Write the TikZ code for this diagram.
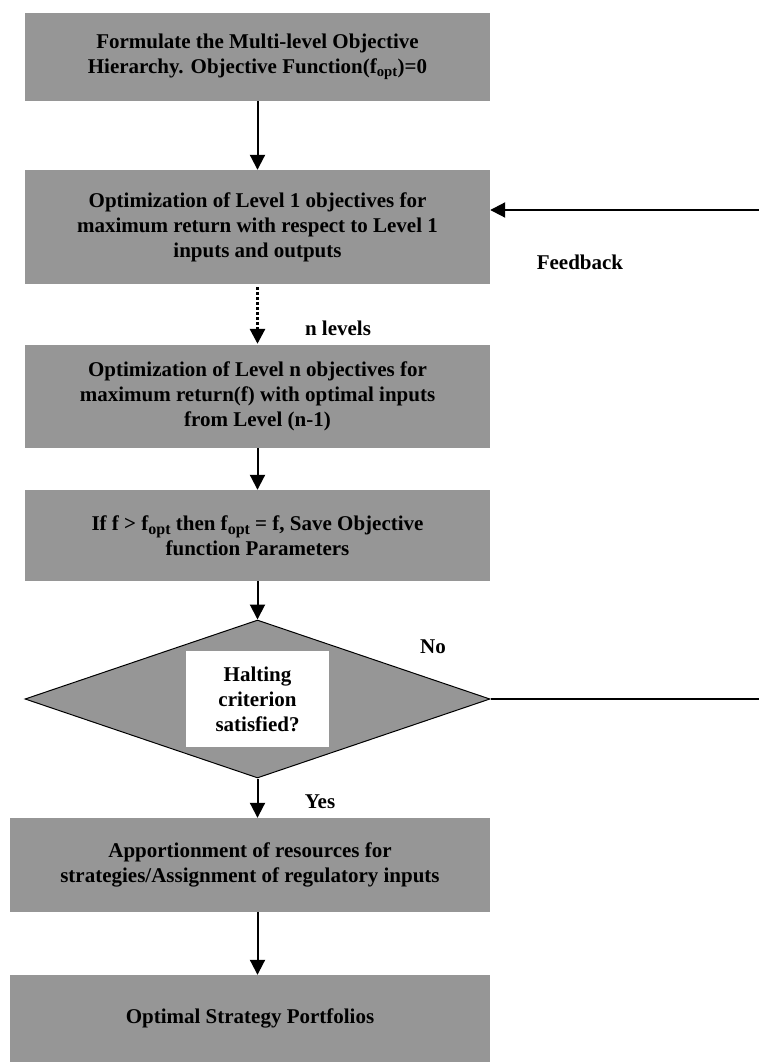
\documentclass[tikz,border=0pt]{standalone}
\usepackage{fontspec}
\setmainfont{Liberation Serif}
\usetikzlibrary{%
  arrows.meta,%
  shapes.geometric%
}
\definecolor{boxgray}{RGB}{150,150,150}
\newcommand{\subopt}{\raisebox{-0.45ex}{\fontsize{16}{16}\selectfont opt}}
\tikzset{
  box/.style={fill=boxgray,minimum width=465pt,inner sep=0pt,align=center},
  arr/.style={line width=2pt,-{Triangle[width=15pt,length=15pt]}}
}

\begin{document}
\begin{tikzpicture}[x=1pt,y=-1pt,font=\fontsize{21}{25}\selectfont\bfseries]
  \useasboundingbox (0,0) rectangle (759,1062);
  % boxes
  \node[box,minimum height=88pt] (form) at (257.5,57)
    {Formulate the Multi-level Objective\\
     Hierarchy. Objective Function(f\textsubscript{opt})=0};
  \node[box,minimum height=114pt] (opt1) at (257.5,227)
    {Optimization of Level 1 objectives for\\
     maximum return with respect to Level 1\\
     inputs and outputs};
  \node[box,minimum height=103pt] (optn) at (257.5,396.5)
    {Optimization of Level n objectives for\\
     maximum return(f) with optimal inputs\\
     from Level (n-1)};
  \node[box,minimum height=91pt] (save) at (257.5,535.5)
    {If f > f\subopt{} then f\subopt{} = f, Save Objective\\
     function Parameters};
  \node[diamond,draw,line width=1pt,fill=boxgray,minimum width=465pt,
    minimum height=158pt,inner sep=0pt] (dec) at (257.5,699) {};
  \node[fill=white,minimum width=143pt,minimum height=96pt,inner sep=0pt,
    align=center] (halt) at (257.5,699) {Halting\\criterion\\satisfied?};
  \node[box,minimum width=480pt,minimum height=94pt] (apport) at (250,865)
    {Apportionment of resources for\\
     strategies/Assignment of regulatory inputs};
  \node[box,minimum width=480pt,minimum height=87pt] (final) at (250,1018.5)
    {Optimal Strategy Portfolios};
  % labels
  \node (nlev) at (338,328) {n levels};
  \node (fb) at (580,262) {Feedback};
  \node (no) at (433,647) {No};
  \node (yes) at (320,802) {Yes};
  % arrows
  \draw[arr] (form) -- (opt1);
  \draw[arr,line width=3pt,shorten <=3pt,shorten >=1pt,dash pattern=on 3pt off 2pt] (opt1) -- (optn);
  \draw[arr] (optn) -- (save);
  \draw[arr] (save) -- (dec);
  \draw[arr] (dec.south) -- (dec.south |- apport.north);
  \draw[arr] (apport.south -| dec.south) -- (final.north -| dec.south);
  % feedback loop
  \coordinate (fbA) at (764,699);
  \coordinate (fbB) at (764,210);
  \draw[line width=1.2pt] (dec.east) -- (fbA) -- (fbB);
  \draw[arr] (fbB) -- (fbB -| opt1.east);
\end{tikzpicture}
\end{document}
